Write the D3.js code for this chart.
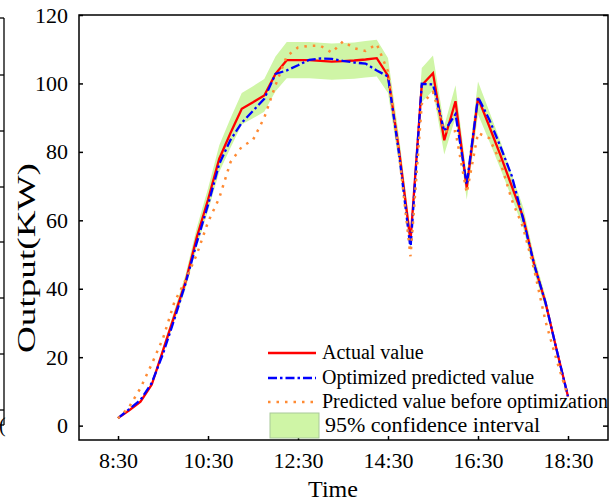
<!DOCTYPE html>
<html>
<head>
<meta charset="utf-8">
<script src="https://cdn.jsdelivr.net/npm/d3@7"></script>
<style>
  body { margin: 0; background: #fff; }
  svg text { font-family: "Liberation Serif", "Times New Roman", serif; fill: #000; }
</style>
</head>
<body>
<div id="chart"></div>
<script>
// sample times (every 15 min)
const times = ["8:30","8:45","9:00","9:15","9:30","9:45","10:00","10:15","10:30","10:45",
  "11:00","11:15","11:30","11:45","12:00","12:15","12:30","12:45","13:00","13:15",
  "13:30","13:45","14:00","14:15","14:30","14:45","15:00","15:15","15:30","15:45",
  "16:00","16:15","16:30","16:45","17:00","17:15","17:30","17:45","18:00","18:15","18:30"];

const actual = [2.2, 4.5, 7, 12, 22, 32, 42, 55, 66, 78,
  85.5, 92.6, 94.5, 96.5, 102.8, 106.8, 106.8, 106.8, 106.6, 106.4,
  106.5, 106.7, 107, 107.4, 102.3, 80, 54, 99.5, 103, 83.4,
  94.8, 69.5, 95.8, 87.5, 79, 70, 61, 47, 36, 22, 8.5];

const optimized = [2.2, 4.8, 7.5, 12.5, 21, 31, 41.5, 53.5, 64.5, 76.5,
  83.5, 88.5, 92, 95.5, 102.8, 103.8, 105.3, 106.9, 107.3, 107.2,
  106.6, 106.1, 105.8, 103.8, 102, 79, 51.7, 99.9, 99.7, 86,
  91, 70.5, 96, 89.5, 81.5, 73, 60.5, 47, 36, 22, 8.5];

const beforeOpt = [2.1, 5.5, 11, 18, 25.5, 36, 42.5, 50, 59.5, 66.5,
  77, 81.5, 83.5, 90, 99.5, 108, 110.5, 111, 111, 109,
  112.3, 110.3, 109.5, 111.5, 103.5, 79, 49.5, 94, 97.5, 86,
  86, 68, 85.5, 84, 77, 66, 58, 45.5, 30.5, 19, 8.5];

const ciUpper = [2.3, 4.7, 7.4, 12.6, 23.1, 33.6, 44.1, 57.8, 69.3, 81.9,
  89.8, 97.2, 99.2, 101.3, 107.9, 112.1, 112.1, 112.1, 111.9, 111.7,
  111.8, 112.0, 112.4, 112.8, 107.4, 84, 56.7, 104.5, 108.2, 87.6,
  99.5, 73, 100.6, 91.9, 83, 73.5, 64, 49.4, 37.8, 23.1, 8.9];

const ciLower = [2.1, 4.3, 6.7, 11.4, 20.9, 30.4, 39.9, 52.3, 62.7, 74.1,
  81.2, 88, 89.8, 91.7, 97.7, 101.5, 101.5, 101.5, 101.3, 101.1,
  101.2, 101.4, 101.7, 102, 97.2, 76, 51.3, 94.5, 97.9, 79.2,
  90.1, 66, 91, 83.1, 75, 66.5, 58, 44.7, 34.2, 20.9, 8.1];

const xTickLabels = ["8:30","10:30","12:30","14:30","16:30","18:30"];
const yTicks = [0, 20, 40, 60, 80, 100, 120];

const W = 614, H = 503;
const margin = { top: 15, right: 6, bottom: 63, left: 79 };
const serif = '"Liberation Serif", "Times New Roman", serif';

const svg = d3.select("#chart").append("svg")
  .attr("width", W).attr("height", H);

// "8:30" -> hours
const toHours = s => { const p = s.split(":"); return +p[0] + p[1] / 60; };

const x = d3.scaleLinear().domain([7.633, 19.389]).range([margin.left, W - margin.right]);
const y = d3.scaleLinear().domain([-4.2, 120]).range([H - margin.bottom, margin.top]);

const rows = times.map((t, i) => ({
  t: toHours(t), a: actual[i], o: optimized[i], b: beforeOpt[i], hi: ciUpper[i], lo: ciLower[i]
}));

// leftover edge of the neighbouring figure
const edge = svg.append("g");
edge.append("line").attr("x1", 4).attr("x2", 4).attr("y1", 18).attr("y2", 425)
  .attr("stroke", "#000").attr("stroke-width", 1.3);
[18, 75, 131, 187, 242, 298, 354, 410, 425].forEach(v => {
  edge.append("line").attr("x1", 0).attr("x2", 4).attr("y1", v).attr("y2", v)
    .attr("stroke", "#000").attr("stroke-width", 1.3);
});
edge.append("text").attr("x", -1).attr("y", 432).style("font-size", "20px").text("(");

// confidence band
svg.append("path").datum(rows)
  .attr("fill", "#cff5a6")
  .attr("d", d3.area().x(d => x(d.t)).y0(d => y(d.lo)).y1(d => y(d.hi)));

const line = key => d3.line().x(d => x(d.t)).y(d => y(d[key]));

svg.append("path").datum(rows).attr("d", line("a"))
  .attr("fill", "none").attr("stroke", "#ff0000").attr("stroke-width", 2.3);
svg.append("path").datum(rows).attr("d", line("o"))
  .attr("fill", "none").attr("stroke", "#0000ff").attr("stroke-width", 2.3)
  .attr("stroke-dasharray", "9,3,2.5,3");
svg.append("path").datum(rows).attr("d", line("b"))
  .attr("fill", "none").attr("stroke", "#ff8a33").attr("stroke-width", 2.5)
  .attr("stroke-dasharray", "2.5,6");

// frame
const x0 = margin.left, x1 = W - margin.right, y0 = margin.top, y1 = H - margin.bottom;
svg.append("rect").attr("x", x0).attr("y", y0).attr("width", x1 - x0).attr("height", y1 - y0)
  .attr("fill", "none").attr("stroke", "#000").attr("stroke-width", 1.5);

// axes
const xAxis = d3.axisBottom(x).tickValues(xTickLabels.map(toHours))
  .tickFormat((d, i) => xTickLabels[i]).tickSizeInner(-4).tickSizeOuter(0).tickPadding(12);
const gx = svg.append("g").attr("transform", `translate(0,${y1})`).call(xAxis)
  .attr("font-family", serif).attr("font-size", 22);
gx.select(".domain").remove();
gx.selectAll("line").attr("stroke", "#000").attr("stroke-width", 1.5);
gx.selectAll("text").style("font-family", serif).style("font-size", "22px");

const yAxis = d3.axisLeft(y).tickValues(yTicks).tickSizeInner(-4).tickSizeOuter(0).tickPadding(11);
const gy = svg.append("g").attr("transform", `translate(${x0},0)`).call(yAxis)
  .attr("font-family", serif).attr("font-size", 22);
gy.select(".domain").remove();
gy.selectAll("line").attr("stroke", "#000").attr("stroke-width", 1.5);
gy.selectAll("text").style("font-family", serif).style("font-size", "22px");

const gy2 = svg.append("g").attr("transform", `translate(${x1},0)`)
  .call(d3.axisRight(y).tickValues(yTicks).tickSizeInner(-5).tickSizeOuter(0).tickFormat(""));
gy2.select(".domain").remove();
gy2.selectAll("line").attr("stroke", "#000").attr("stroke-width", 1.5);

// axis titles
svg.append("text").attr("x", 333).attr("y", 497).attr("text-anchor", "middle")
  .style("font-size", "24px").text("Time");
svg.append("text").attr("transform", "translate(35,258) rotate(-90)")
  .attr("text-anchor", "middle").style("font-size", "25px")
  .attr("textLength", 190).attr("lengthAdjust", "spacingAndGlyphs").text("Output(KW)");

// legend
const legend = svg.append("g");
const legendItems = [
  { label: "Actual value", color: "#ff0000", dash: null, y: 353 },
  { label: "Optimized predicted value", color: "#0000ff", dash: "9,3,2.5,3", y: 378 },
  { label: "Predicted value before optimization", color: "#ff8a33", dash: "2.5,6", y: 402 }
];
legendItems.forEach(it => {
  legend.append("line").attr("x1", 268).attr("x2", 316).attr("y1", it.y).attr("y2", it.y)
    .attr("stroke", it.color).attr("stroke-width", 2.3).attr("stroke-dasharray", it.dash);
  legend.append("text").attr("x", 322).attr("y", it.y + 6).style("font-size", "20px").text(it.label);
});
legend.append("rect").attr("x", 270).attr("y", 413).attr("width", 49).attr("height", 25)
  .attr("fill", "#cff5a6").attr("stroke", "#a9c99a").attr("stroke-width", 1);
legend.append("text").attr("x", 325).attr("y", 432).style("font-size", "22px").text("95% confidence interval");
</script>
</body>
</html>
